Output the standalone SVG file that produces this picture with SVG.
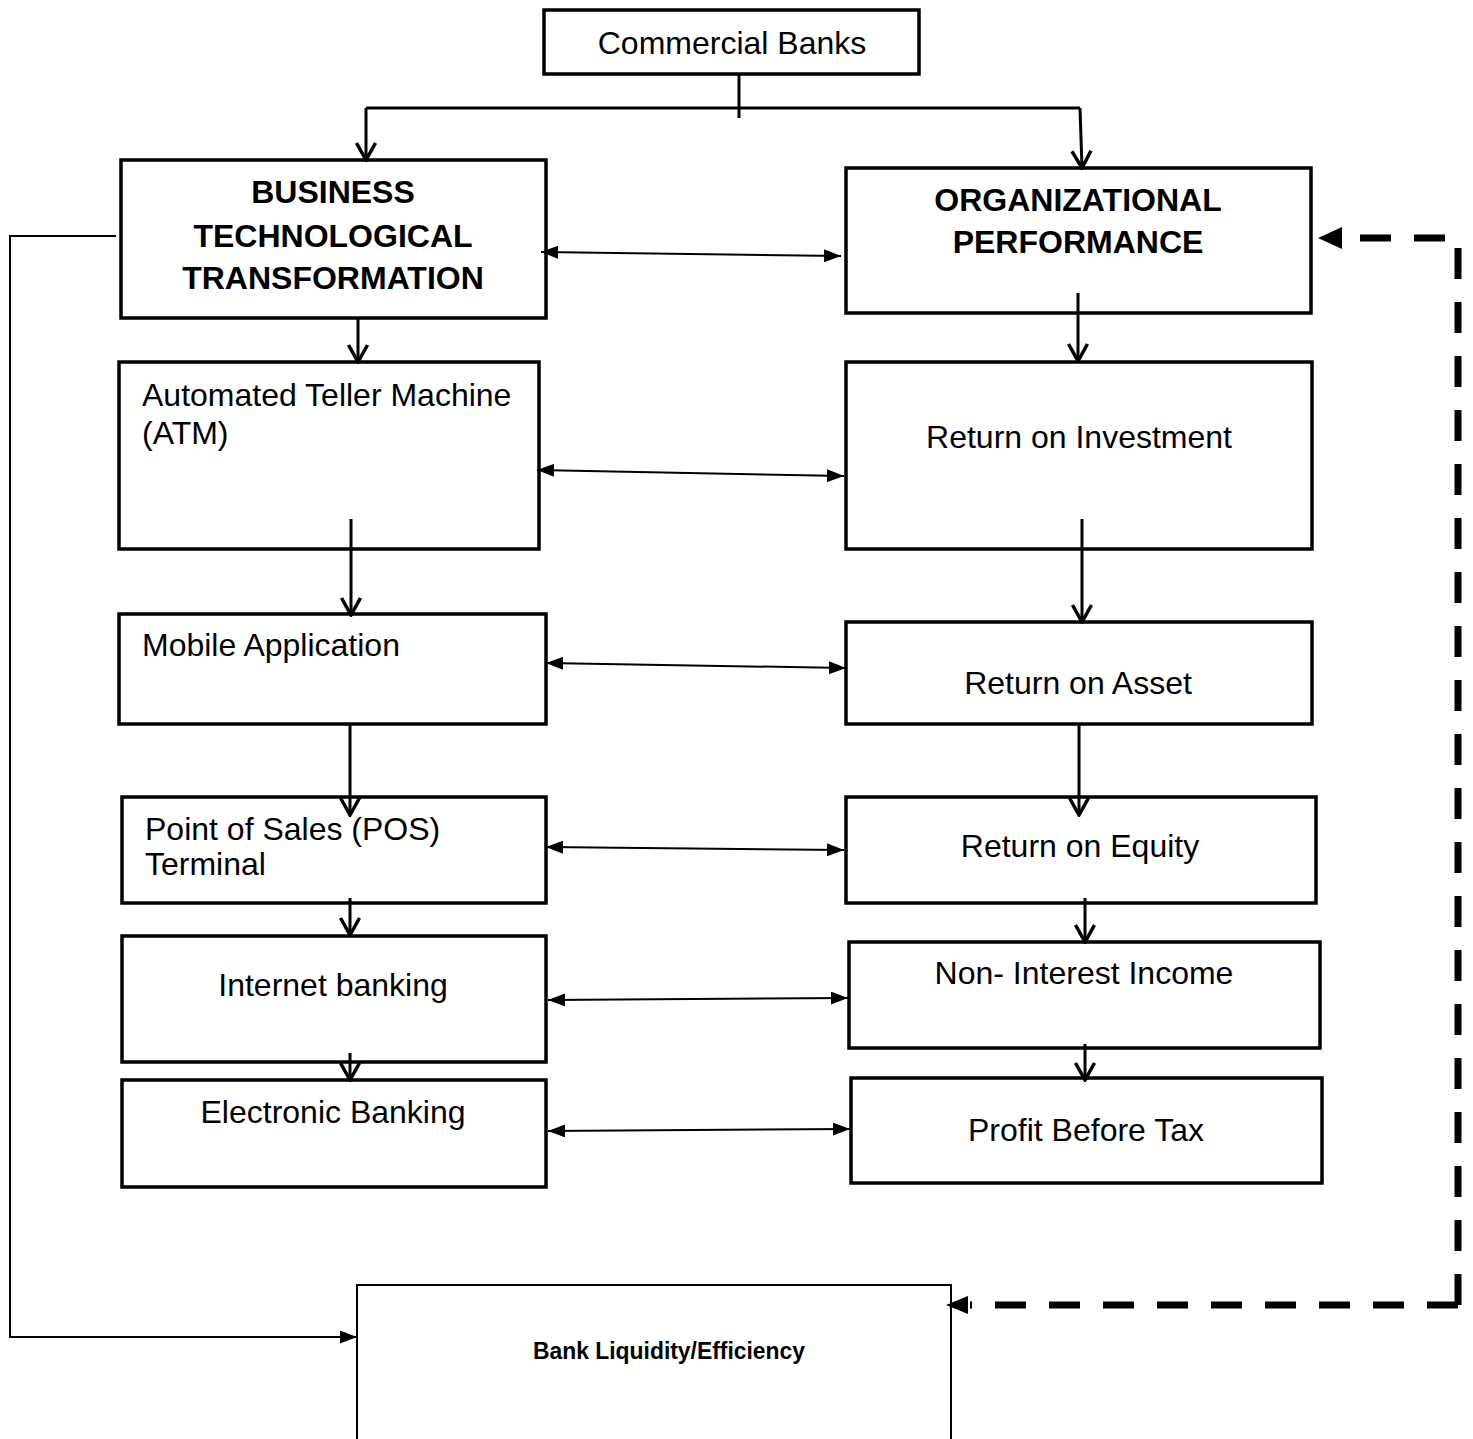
<svg xmlns="http://www.w3.org/2000/svg" width="1473" height="1439" viewBox="0 0 1473 1439">
<style>
.box{fill:#fff;stroke:#000;stroke-width:3.5}
.t{font-family:"Liberation Sans",Arial,sans-serif;font-size:32px;fill:#000}
.b{font-weight:bold}
.c{text-anchor:middle}
.ln{fill:none;stroke:#000;stroke-width:3}
.thin{fill:none;stroke:#000;stroke-width:2}
.dash{fill:none;stroke:#000;stroke-width:7;stroke-dasharray:31 23}
</style>
<defs>
<marker id="v" viewBox="0 0 24 24" refX="22" refY="12" markerWidth="24" markerHeight="24" markerUnits="userSpaceOnUse" orient="auto">
<path d="M5,2.5 L22,12 L5,21.5" fill="none" stroke="#000" stroke-width="3.5"/>
</marker>
<marker id="tri" viewBox="0 0 17 13" refX="17" refY="6.5" markerWidth="17" markerHeight="13" markerUnits="userSpaceOnUse" orient="auto-start-reverse">
<path d="M0,0 L17,6.5 L0,13 Z" fill="#000"/>
</marker>
</defs>

<g id="commercial-banks"><rect class="box" x="544" y="10" width="375" height="64"/><text class="t c" x="732" y="54">Commercial Banks</text></g>
<g id="btt"><rect class="box" x="121" y="160" width="425" height="158"/>
<text class="t b c" x="333" y="203">BUSINESS</text><text class="t b c" x="333" y="247">TECHNOLOGICAL</text><text class="t b c" x="333" y="289">TRANSFORMATION</text></g>
<g id="op"><rect class="box" x="846" y="168" width="465" height="145"/>
<text class="t b c" x="1078" y="211">ORGANIZATIONAL</text><text class="t b c" x="1078" y="253">PERFORMANCE</text></g>
<g id="atm"><rect class="box" x="119" y="362" width="420" height="187"/>
<text class="t" x="142" y="406">Automated Teller Machine</text><text class="t" x="142" y="444">(ATM)</text></g>
<g id="roi"><rect class="box" x="846" y="362" width="466" height="187"/><text class="t c" x="1079" y="448">Return on Investment</text></g>
<g id="mobile"><rect class="box" x="119" y="614" width="427" height="110"/><text class="t" x="142" y="656">Mobile Application</text></g>
<g id="roa"><rect class="box" x="846" y="622" width="466" height="102"/><text class="t c" x="1078" y="694">Return on Asset</text></g>
<g id="pos"><rect class="box" x="122" y="797" width="424" height="106"/>
<text class="t" x="145" y="840">Point of Sales (POS)</text><text class="t" x="145" y="875">Terminal</text></g>
<g id="roe"><rect class="box" x="846" y="797" width="470" height="106"/><text class="t c" x="1080" y="857">Return on Equity</text></g>
<g id="internet"><rect class="box" x="122" y="936" width="424" height="126"/><text class="t c" x="333" y="996">Internet banking</text></g>
<g id="nii"><rect class="box" x="849" y="942" width="471" height="106"/><text class="t c" x="1084" y="984">Non- Interest Income</text></g>
<g id="ebanking"><rect class="box" x="122" y="1080" width="424" height="107"/><text class="t c" x="333" y="1123">Electronic Banking</text></g>
<g id="pbt"><rect class="box" x="851" y="1078" width="471" height="105"/><text class="t c" x="1086" y="1141">Profit Before Tax</text></g>
<g id="liquidity"><path class="thin" d="M357,1439 V1285 H951 V1439" fill="#fff"/>
<text class="t b c" x="669" y="1359" style="font-size:24px" textLength="272" lengthAdjust="spacingAndGlyphs">Bank Liquidity/Efficiency</text></g>

<g id="connectors">
<path class="ln" d="M739,74 V118 M366,108 H1080"/>
<path class="ln" d="M366,108 V160" marker-end="url(#v)"/>
<path class="ln" d="M1080,108 L1082,168" marker-end="url(#v)"/>
<path class="thin" d="M541,252 L841,256" marker-start="url(#tri)" marker-end="url(#tri)"/>
<path class="ln" d="M358,318 V362" marker-end="url(#v)"/>
<path class="ln" d="M1078,293 V361" marker-end="url(#v)"/>
<path class="thin" d="M537,470 L844,476" marker-start="url(#tri)" marker-end="url(#tri)"/>
<path class="ln" d="M351,519 V615" marker-end="url(#v)"/>
<path class="ln" d="M1082,519 V622" marker-end="url(#v)"/>
<path class="thin" d="M546,663 L846,668" marker-start="url(#tri)" marker-end="url(#tri)"/>
<path class="ln" d="M350,724 V815" marker-end="url(#v)"/>
<path class="ln" d="M1079,724 V815" marker-end="url(#v)"/>
<path class="thin" d="M546,847 L844,850" marker-start="url(#tri)" marker-end="url(#tri)"/>
<path class="ln" d="M350,898 V935" marker-end="url(#v)"/>
<path class="ln" d="M1085,898 V942" marker-end="url(#v)"/>
<path class="thin" d="M548,1000 L848,998" marker-start="url(#tri)" marker-end="url(#tri)"/>
<path class="ln" d="M350,1053 V1080" marker-end="url(#v)"/>
<path class="ln" d="M1085,1044 V1080" marker-end="url(#v)"/>
<path class="thin" d="M548,1131 L850,1129" marker-start="url(#tri)" marker-end="url(#tri)"/>
<path class="thin" d="M116,236 H10 V1337 H357" marker-end="url(#tri)"/>
<path class="dash" d="M1458,1305 V238 H1340"/>
<path d="M1318,238 L1342,227 L1342,249 Z" fill="#000"/>
<path class="dash" d="M1458,1305 H970"/>
<path d="M946,1305 L968,1296 L968,1314 Z" fill="#000"/>
</g>
</svg>
